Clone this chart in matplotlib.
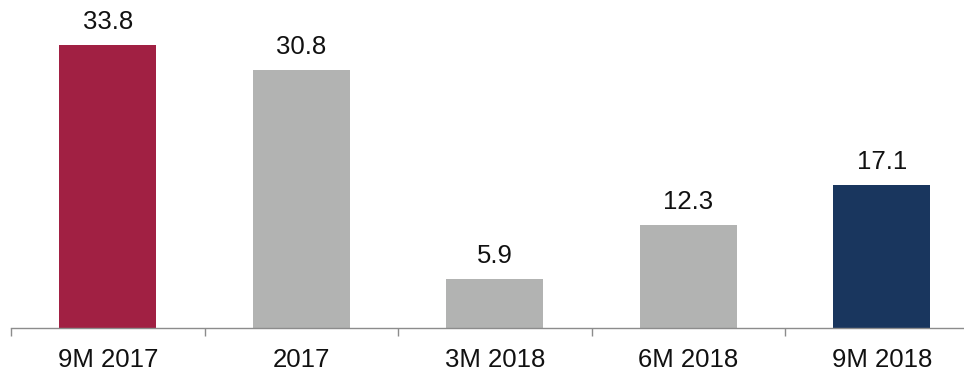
import matplotlib.pyplot as plt
import numpy as np

periods = ["9M 2017", "2017", "3M 2018", "6M 2018", "9M 2018"]
values = [33.8, 30.8, 5.9, 12.3, 17.1]
bar_colors = ["#A12043", "#B2B3B2", "#B2B3B2", "#B2B3B2", "#19365E"]

plt.rcParams["font.family"] = ["Liberation Sans", "DejaVu Sans"]

fig = plt.figure(figsize=(9.64, 3.73), dpi=100)
ax = fig.add_axes([11 / 964, 45 / 373, 967.5 / 964, 328 / 373])

x = np.arange(len(periods))
bars = ax.bar(x, values, width=0.5, color=bar_colors)

# value labels above each bar
for rect, v in zip(bars, values):
    ax.annotate(f"{v:.1f}", (rect.get_x() + rect.get_width() / 2, v),
                xytext=(0, 11.5), textcoords="offset points",
                ha="center", va="baseline", fontsize=18.5, color="#111111")

ax.set_xlim(-0.5, len(periods) - 0.5)
ax.set_ylim(0, 39.2)

# boundary ticks on the axis, labels centred under the bars
ax.set_xticks(np.arange(len(periods) + 1) - 0.5)
ax.set_xticklabels([])
ax.tick_params(axis="x", which="major", direction="out", length=6,
               width=1, color="#8C8C8C")
ax.set_xticks(x, minor=True)
ax.set_xticklabels(periods, minor=True, fontsize=18.5, color="#111111")
ax.tick_params(axis="x", which="minor", length=0, pad=14.5)

ax.set_yticks([])
for side in ["top", "right", "left"]:
    ax.spines[side].set_visible(False)
ax.spines["bottom"].set_color("#8C8C8C")
ax.spines["bottom"].set_linewidth(1)

fig.savefig("out.png", dpi=100)
plt.close(fig)
